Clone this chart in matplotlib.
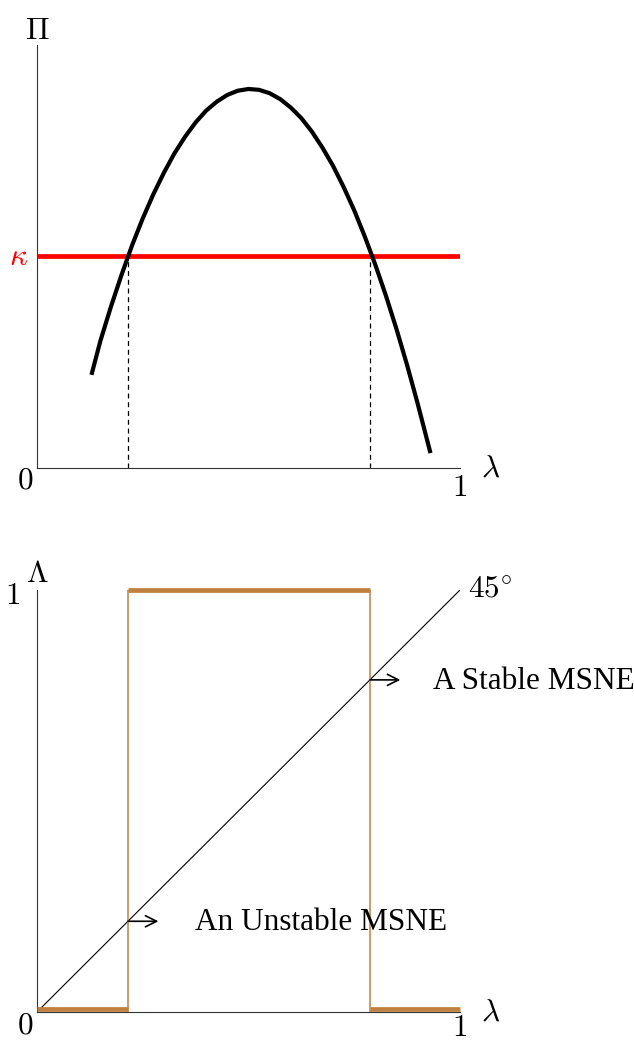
import matplotlib.pyplot as plt

plt.rcParams['mathtext.fontset'] = 'cm'

# Top panel: profit curve Pi(lambda) and threshold kappa
lam = [0.13, 0.15, 0.175, 0.20, 0.225, 0.25, 0.275, 0.30, 0.325, 0.35,
       0.375, 0.40, 0.425, 0.45, 0.475, 0.50, 0.525, 0.55, 0.575, 0.60,
       0.625, 0.65, 0.675, 0.70, 0.725, 0.75, 0.775, 0.80, 0.825, 0.85,
       0.875, 0.90, 0.929]
pi = [0.225, 0.301, 0.382, 0.457, 0.527, 0.590, 0.647, 0.698, 0.744, 0.783,
      0.817, 0.845, 0.866, 0.882, 0.892, 0.896, 0.894, 0.886, 0.872, 0.852,
      0.827, 0.795, 0.757, 0.714, 0.664, 0.609, 0.547, 0.480, 0.407, 0.328,
      0.243, 0.152, 0.040]
kappa = 0.501
crossings = [0.215, 0.787]

# Bottom panel: best response Lambda(lambda) and 45 degree line
step_lo = [0.0, 0.215]
step_mid = [0.215, 0.787]
step_hi = [0.787, 1.0]
diag = [0.0, 1.0]

brown = '#BF8040'

fig = plt.figure(figsize=(6.34, 10.4), dpi=100)
ax1 = fig.add_axes([37 / 634, 572 / 1040, 423 / 634, 423 / 1040])
ax2 = fig.add_axes([37 / 634, 28 / 1040, 423 / 634, 422 / 1040])

for ax in (ax1, ax2):
    ax.set_xlim(0, 1)
    ax.set_ylim(0, 1)
    for s in ['top', 'right']:
        ax.spines[s].set_visible(False)
    for s in ['left', 'bottom']:
        ax.spines[s].set_linewidth(0.8)
        ax.spines[s].set_color('#333333')
    ax.set_xticks([])
    ax.set_yticks([])
    ax.patch.set_alpha(0)

# top chart
for c in crossings:
    ax1.plot([c, c], [0, kappa], color='black', lw=0.9, ls=(0, (4, 3)), zorder=2)
ax1.plot([0, 1], [kappa, kappa], color='red', lw=3.4, solid_capstyle='butt', zorder=3)
ax1.plot(lam, pi, color='black', lw=3, solid_joinstyle='round', zorder=4)

fs = 22.5
ax1.text(0, 1.035, r'$\Pi$', ha='center', va='center', fontsize=fs)
ax1.text(-0.043, kappa, r'$\kappa$', ha='center', va='center', fontsize=fs, color='red')
ax1.text(-0.028, -0.028, r'$0$', ha='center', va='center', fontsize=fs)
ax1.text(1.0, -0.045, r'$1$', ha='center', va='center', fontsize=fs)
ax1.text(1.073, 0.0, r'$\lambda$', ha='center', va='center', fontsize=fs)

# bottom chart
ax2.plot(diag, diag, color='black', lw=0.8, zorder=2)
for xs, v in [(step_lo, 0.006), (step_mid, 1.0), (step_hi, 0.006)]:
    ax2.plot(xs, [v, v], color=brown, lw=3.4, solid_capstyle='butt',
             clip_on=False, zorder=3)
ax2.plot([step_mid[0], step_mid[0]], [0, 1], color=brown, lw=1.1, zorder=3)
ax2.plot([step_mid[1], step_mid[1]], [0, 1], color=brown, lw=1.1, zorder=3)

for c in crossings:
    ax2.annotate('', xy=(c + 0.072, c), xytext=(c, c),
                 arrowprops=dict(arrowstyle='->', color='black', lw=1.2,
                                 mutation_scale=20, shrinkA=0, shrinkB=0),
                 zorder=4)

ax2.text(0, 1.040, r'$\Lambda$', ha='center', va='center', fontsize=fs)
ax2.text(-0.057, 0.986, r'$1$', ha='center', va='center', fontsize=fs)
ax2.text(1.019, 1.0, r'$45^{\circ}$', ha='left', va='center', fontsize=fs)
ax2.text(0.936, 0.784, 'A Stable MSNE', ha='left', va='center', fontsize=fs,
         family='Liberation Serif')
ax2.text(0.374, 0.213, 'An Unstable MSNE', ha='left', va='center', fontsize=fs,
         family='Liberation Serif')
ax2.text(-0.028, -0.031, r'$0$', ha='center', va='center', fontsize=fs)
ax2.text(1.0, -0.036, r'$1$', ha='center', va='center', fontsize=fs)
ax2.text(1.073, 0.0, r'$\lambda$', ha='center', va='center', fontsize=fs)

fig.savefig('out.png', dpi=100)
